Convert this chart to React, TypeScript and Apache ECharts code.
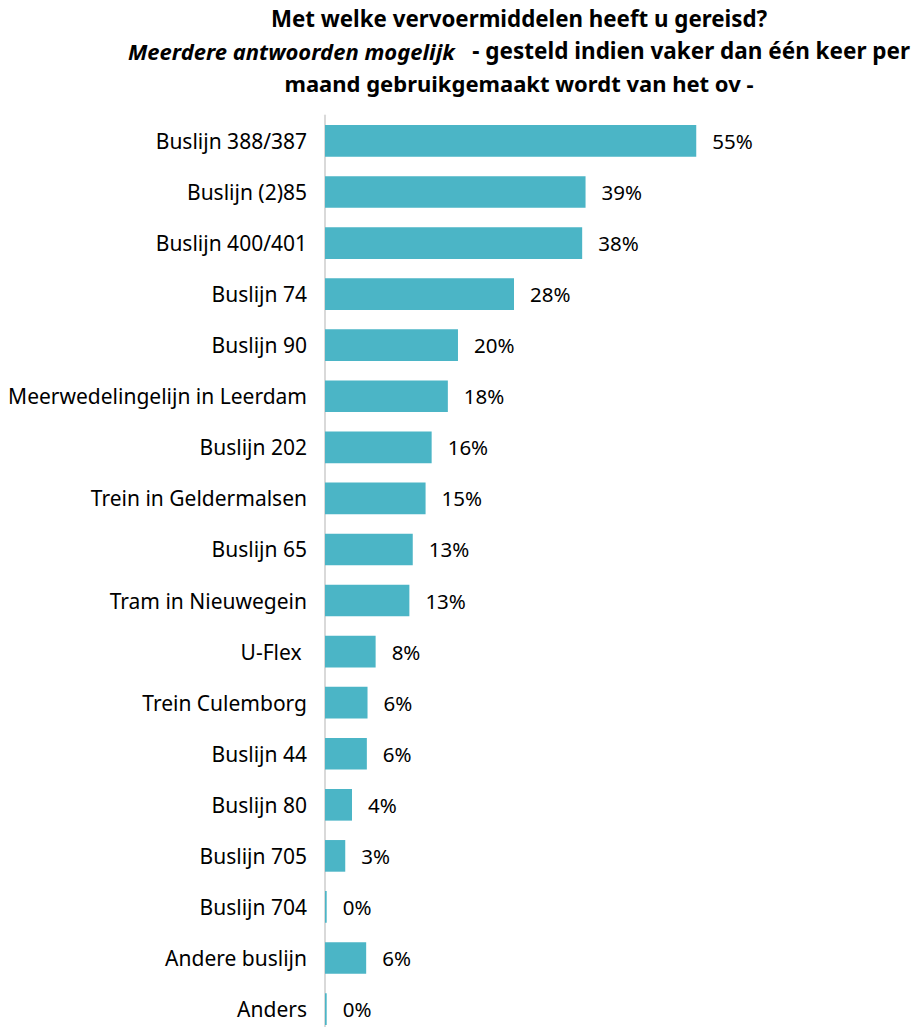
import React, { useEffect, useRef } from "react";
import * as echarts from "echarts";

const categories = [
  "Buslijn 388/387",
  "Buslijn (2)85",
  "Buslijn 400/401",
  "Buslijn 74",
  "Buslijn 90",
  "Meerwedelingelijn in Leerdam",
  "Buslijn 202",
  "Trein in Geldermalsen",
  "Buslijn 65",
  "Tram in Nieuwegein",
  "U-Flex ",
  "Trein Culemborg",
  "Buslijn 44",
  "Buslijn 80",
  "Buslijn 705",
  "Buslijn 704",
  "Andere buslijn",
  "Anders",
];

const values = [55, 38.6, 38.1, 28.0, 19.7, 18.2, 15.8, 14.9, 13.0, 12.5, 7.5, 6.3, 6.2, 4.0, 3.0, 0.25, 6.1, 0.25];

const titleLine1 = "Met welke vervoermiddelen heeft u gereisd?";
const titleLine2Italic = "Meerdere antwoorden mogelijk";
const titleLine2Rest = "   - gesteld indien vaker dan één keer per";
const titleLine3 = "maand gebruikgemaakt wordt van het ov -";

const FONT = "'Noto Sans', sans-serif";

export default function App() {
  const ref = useRef<HTMLDivElement>(null);
  useEffect(() => {
    if (!ref.current) return;
    const chart = echarts.init(ref.current, null, { renderer: "svg" });
    chart.setOption({
      animation: false,
      backgroundColor: "#ffffff",
      title: {
        text: `{a|${titleLine1}}\n{i|${titleLine2Italic}}{b|${titleLine2Rest}}\n{c|${titleLine3}}`,
        left: 519,
        top: 2,
        padding: 0,
        textAlign: "center",
        textStyle: {
          rich: {
            a: { fontFamily: FONT, fontWeight: "bold", fontSize: 22.3, lineHeight: 32.5, color: "#000" },
            b: { fontFamily: FONT, fontWeight: "bold", fontSize: 22.5, lineHeight: 32.5, color: "#000" },
            c: { fontFamily: FONT, fontWeight: "bold", fontSize: 22, lineHeight: 32.5, color: "#000" },
            i: { fontFamily: FONT, fontWeight: "bold", fontStyle: "italic", fontSize: 22, lineHeight: 32.5, color: "#000" },
          },
        },
      },
      grid: { left: 325, right: 56, top: 115.4, bottom: 5.4, containLabel: false },
      xAxis: {
        type: "value",
        min: 0,
        max: 80,
        show: false,
      },
      yAxis: {
        type: "category",
        data: categories,
        inverse: true,
        axisLine: { show: true, lineStyle: { color: "#d9d9d9", width: 2 } },
        axisTick: { show: false },
        axisLabel: { fontFamily: FONT, fontSize: 21, color: "#000", margin: 18 },
        splitLine: { show: false },
      },
      series: [
        {
          type: "bar",
          data: values,
          barCategoryGap: "38%",
          itemStyle: { color: "#4BB5C6" },
          label: {
            show: true,
            position: "right",
            distance: 16,
            fontFamily: FONT,
            fontSize: 20.5,
            color: "#000",
            formatter: (p: any) => `${Math.round(p.value)}%`,
          },
        },
      ],
    });
    return () => chart.dispose();
  }, []);
  return (
    <div style={{ position: "absolute", left: 0, top: 0, width: 921, height: 1027, overflow: "hidden" }}>
      <div ref={ref} style={{ width: 921, height: 1040 }} />
    </div>
  );
}
